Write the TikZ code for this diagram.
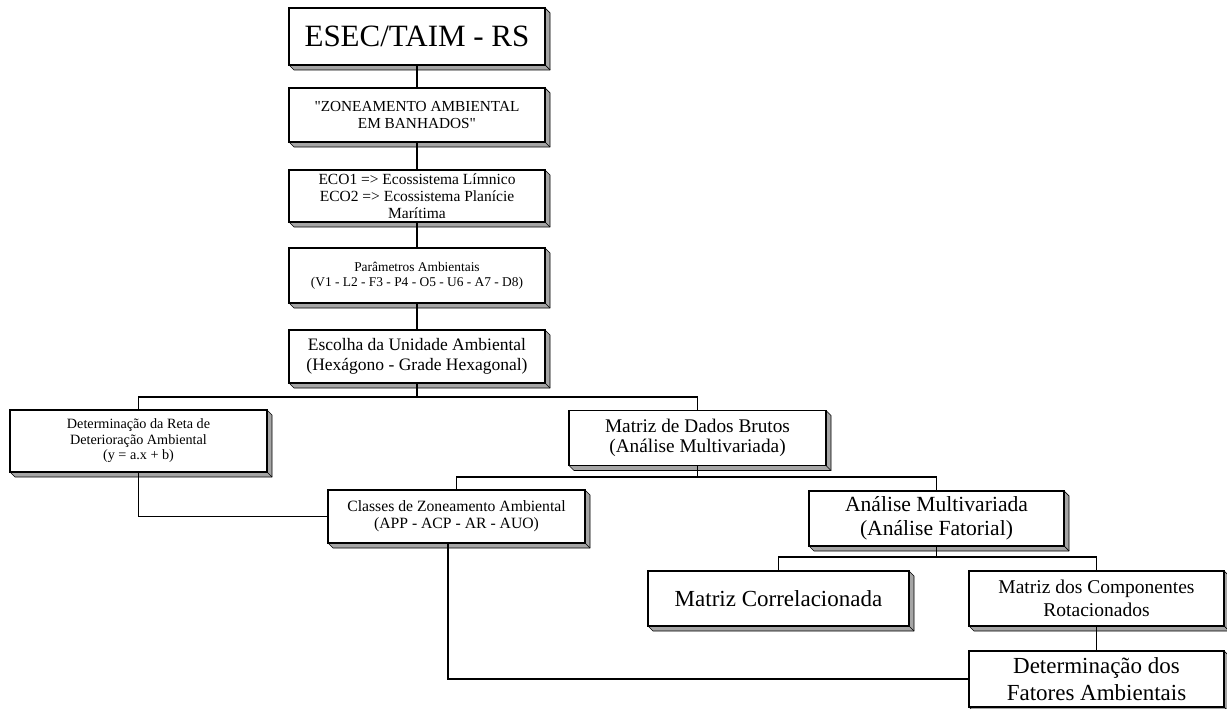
\documentclass[tikz,border=0pt]{standalone}
\usepackage{fontspec}
\setmainfont{Liberation Serif}
\usepackage{tikz}
\usetikzlibrary{positioning, backgrounds}
\definecolor{bevelgray}{RGB}{165, 165, 165}
\newcommand{\fsz}[2]{\fontsize{#1}{#2}\selectfont}

\begin{document}
\begin{tikzpicture}[x=1pt, y=-1pt,
    box/.style={draw, line width=1.6pt, fill=white, align=center,
                inner sep=0pt, outer sep=0pt},
    link/.style={line width=1.2pt},
    bevel/.style={draw, line width=0.7pt, fill=bevelgray, line join=round}]
  \useasboundingbox (0,0) rectangle (1227,709);
  % main column
  \node[box, minimum width=256pt, minimum height=57pt, font=\fsz{31}{34}] (esec) at (417,36.5) {ESEC/TAIM - RS};
  \node[box, minimum width=256pt, minimum height=54pt, font=\fsz{15.3}{16.8}] (zon) at (417,115) {\textquotedbl ZONEAMENTO AMBIENTAL\\EM BANHADOS\textquotedbl};
  \node[box, minimum width=256pt, minimum height=52pt, font=\fsz{15.5}{16.8}] (eco) at (417,196) {ECO1 => Ecossistema Límnico\\ECO2 => Ecossistema Planície\\Marítima};
  \node[box, minimum width=256pt, minimum height=55pt, font=\fsz{13.4}{15}] (par) at (417,275.5) {Parâmetros Ambientais\\(V1 - L2 - F3 - P4 - O5 - U6 - A7 - D8)};
  \node[box, minimum width=256pt, minimum height=53pt, font=\fsz{17.5}{19.5}] (esc) at (417,356.5) {Escolha da Unidade Ambiental\\(Hexágono - Grade Hexagonal)};
  % second level
  \node[box, minimum width=257pt, minimum height=62pt, font=\fsz{14.2}{15.6}] (reta) at (138.5,441) {Determinação da Reta de\\Deterioração Ambiental\\(y = a.x + b)};
  \node[box, minimum width=257pt, minimum height=55pt, font=\fsz{19.3}{20.5}] (dados) at (697.5,438) {Matriz de Dados Brutos\\(Análise Multivariada)};
  % third level
  \node[box, minimum width=257pt, minimum height=53pt, font=\fsz{15.7}{16.8}] (classes) at (456.5,516.5) {Classes de Zoneamento Ambiental\\(APP - ACP - AR - AUO)};
  \node[box, minimum width=255pt, minimum height=55pt, font=\fsz{21.6}{24.5}] (analise) at (936.5,518.5) {Análise Multivariada\\(Análise Fatorial)};
  % fourth level
  \node[box, minimum width=261pt, minimum height=55pt, font=\fsz{23}{26}] (corr) at (778.5,598.5) {Matriz Correlacionada};
  \node[box, minimum width=255pt, minimum height=55pt, font=\fsz{19.5}{23}] (comp) at (1096.5,598.5) {Matriz dos Componentes\\Rotacionados};
  \node[box, minimum width=255pt, minimum height=56pt, font=\fsz{23}{27}] (det) at (1096.5,679) {Determinação dos\\Fatores Ambientais};

  % 3d edges of the boxes
  \begin{scope}[on background layer]
    \foreach \n in {esec,zon,eco,par,esc,reta,dados,classes,analise,corr,comp,det} {
      \draw[bevel] (\n.north east) -- ++(5,5) -- ([shift={(5,5)}]\n.south east)
        -- ([shift={(5,5)}]\n.south west) -- (\n.south west) -- (\n.south east) -- cycle;
      \draw[bevel] (\n.south east) -- ++(5,5);
    }
  \end{scope}

  % connectors
  \coordinate (j1) at (417,397);
  \coordinate (j2) at (697.5,477);
  \coordinate (j3) at (936.5,557);
  \draw[link] (esec) -- (zon);
  \draw[link] (zon) -- (eco);
  \draw[link] (eco) -- (par);
  \draw[link] (par) -- (esc);
  \draw[link] (esc) -- (j1);
  \draw[link] (reta.north) |- (j1) -| (dados.north);
  \draw[link] (dados) -- (j2);
  \draw[link] (classes.north) |- (j2) -| (analise.north);
  \draw[link] (analise) -- (j3);
  \draw[link] (corr.north) |- (j3) -| (comp.north);
  \draw[link] (comp) -- (det);
  \draw[link] (reta.south) |- (classes.west);
  \draw[link] ([xshift=-8.5pt]classes.south) |- (det.west);
\end{tikzpicture}
\end{document}
